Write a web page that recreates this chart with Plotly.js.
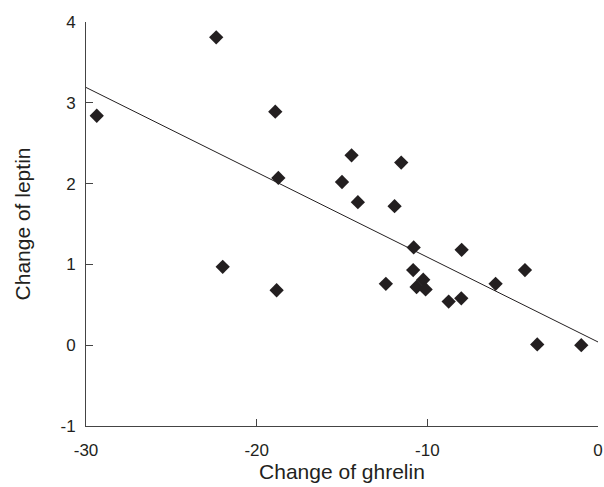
<!DOCTYPE html>
<html>
<head>
<meta charset="utf-8">
<script src="https://cdn.plot.ly/plotly-3.0.1.min.js"></script>
<style>html,body{margin:0;padding:0;background:#fff;}#chart{width:604px;height:487px;}</style>
</head>
<body>
<div id="chart"></div>
<script>
// Change of ghrelin (x) and change of leptin (y)
var ghrelin = [-29.37, -22.37, -18.91, -18.73, -21.99, -18.83, -14.44, -11.53, -15.0, -14.07, -11.92, -10.80, -7.99, -10.83, -4.28, -12.43, -6.0, -10.24, -10.63, -10.10, -8.75, -8.01, -3.56, -0.98];
var leptin  = [2.84, 3.81, 2.89, 2.07, 0.97, 0.68, 2.35, 2.26, 2.02, 1.77, 1.72, 1.21, 1.18, 0.93, 0.93, 0.76, 0.76, 0.81, 0.72, 0.69, 0.54, 0.58, 0.01, 0.00];
// Regression line endpoints
var fitX = [-30, 0];
var fitY = [3.19, 0.04];
var xTickVals = [-30, -20, -10, 0];
var xTickText = ['-30', '-20', '-10', '0'];
var yTickVals = [-1, 0, 1, 2, 3, 4];
var yTickText = ['-1', '0', '1', '2', '3', '4'];

var traces = [
  {x: fitX, y: fitY, mode: 'lines', line: {color: '#231f20', width: 1}, hoverinfo: 'skip'},
  {x: ghrelin, y: leptin, mode: 'markers', marker: {symbol: 'diamond', size: 11, color: '#231f20'}}
];
var layout = {
  width: 604, height: 487,
  margin: {l: 86, r: 6, t: 22, b: 61},
  showlegend: false,
  paper_bgcolor: '#fff', plot_bgcolor: '#fff',
  font: {family: 'Liberation Sans, Arial, sans-serif', color: '#231f20', size: 17},
  xaxis: {
    range: [-30, 0], tickvals: xTickVals, ticktext: xTickText,
    ticks: 'inside', ticklen: 7, tickcolor: '#444', showline: true, linecolor: '#444', linewidth: 1,
    showgrid: false, zeroline: false, ticklabelstandoff: 9,
    title: {text: 'Change of ghrelin', font: {size: 21}, standoff: 4}
  },
  yaxis: {
    range: [-1, 4], tickvals: yTickVals, ticktext: yTickText,
    ticks: 'inside', ticklen: 7, tickcolor: '#444', showline: true, linecolor: '#444', linewidth: 1,
    showgrid: false, zeroline: false, ticklabelstandoff: 6,
    title: {text: 'Change of leptin', font: {size: 21}, standoff: 24}
  }
};
Plotly.newPlot('chart', traces, layout, {displayModeBar: false, staticPlot: true});
</script>
</body>
</html>
